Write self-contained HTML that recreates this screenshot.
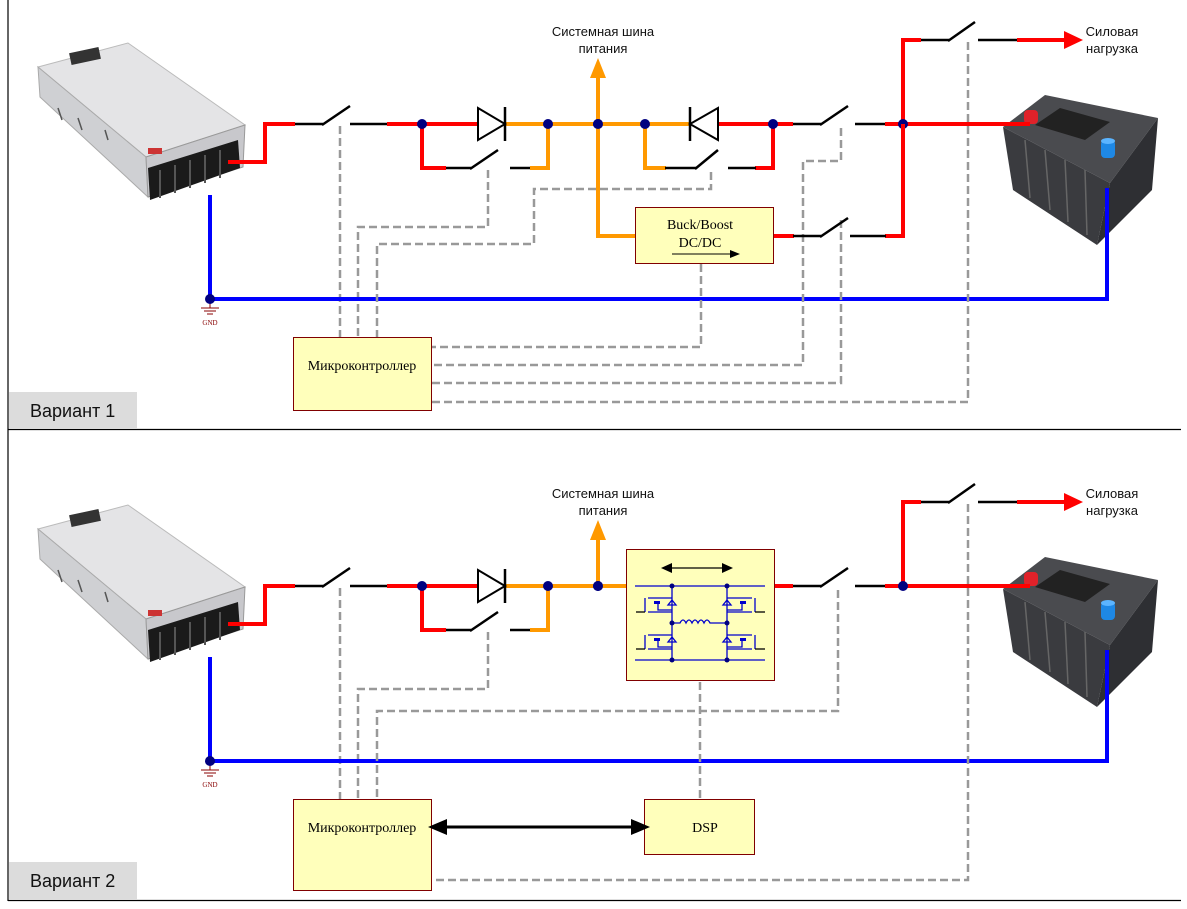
<!DOCTYPE html>
<html><head><meta charset="utf-8"><style>
html,body{margin:0;padding:0;background:#fff;}
svg{display:block;}
.ss{font-family:"Liberation Sans",sans-serif;font-size:13px;fill:#111;}
.sf{font-family:"Liberation Serif",serif;font-size:14px;fill:#000;}
</style></head><body>
<svg width="1187" height="909" viewBox="0 0 1187 909" xmlns="http://www.w3.org/2000/svg">
<defs>
<g id="psu">
  <polygon points="38,67 128,43 245,125 146,157" fill="#e4e4e6" stroke="#bbb"/>
  <polygon points="38,67 146,157 148,197 40,97" fill="#cfd0d3" stroke="#aaa"/>
  <polygon points="146,157 245,125 243,167 148,197" fill="#c8c8cc" stroke="#999"/>
  <polygon points="148,168 238,140 240,168 150,200" fill="#1a1a1a"/>
  <g stroke="#555" stroke-width="2"><line x1="160" y1="170" x2="160" y2="198"/><line x1="175" y1="165" x2="175" y2="193"/><line x1="190" y1="160" x2="190" y2="188"/><line x1="205" y1="155" x2="205" y2="183"/><line x1="220" y1="150" x2="220" y2="178"/></g>
  <rect x="70" y="50" width="30" height="12" fill="#333" transform="rotate(-12 85 56)"/>
  <rect x="148" y="148" width="14" height="6" fill="#c33"/>
  <g stroke="#555" stroke-width="1.5"><line x1="58" y1="108" x2="62" y2="120"/><line x1="78" y1="118" x2="82" y2="130"/><line x1="105" y1="130" x2="108" y2="140"/></g>
</g>
<g id="batt">
  <polygon points="1003,127 1045,95 1158,118 1110,183" fill="#4a4b4f"/>
  <polygon points="1003,127 1110,183 1097,245 1013,190" fill="#3a3b3f"/>
  <polygon points="1110,183 1158,118 1152,190 1097,245" fill="#2e2f33"/>
  <polygon points="1035,125 1060,108 1110,122 1085,140" fill="#222"/>
  <g stroke="#666" stroke-width="1.5"><line x1="1025" y1="140" x2="1030" y2="198"/><line x1="1045" y1="150" x2="1050" y2="210"/><line x1="1065" y1="160" x2="1068" y2="222"/><line x1="1085" y1="170" x2="1087" y2="235"/></g>
  <rect x="1024" y="110" width="14" height="14" rx="4" fill="#e0222a"/>
  <rect x="1101" y="140" width="14" height="18" rx="4" fill="#1e88e5"/>
  <ellipse cx="1108" cy="141" rx="7" ry="3" fill="#5bb4ff"/>
</g>
</defs>

<g stroke="#000" stroke-width="1.2">
<line x1="8" y1="0" x2="8" y2="901"/>
<line x1="8" y1="429.5" x2="1181" y2="429.5"/>
<line x1="8" y1="900.5" x2="1181" y2="900.5"/>
</g>
<rect x="9" y="392" width="128" height="37" fill="#dcdcdc"/>
<text x="30" y="417" font-family="Liberation Sans,sans-serif" font-size="18" fill="#111">Вариант 1</text>
<rect x="9" y="862" width="128" height="38" fill="#dcdcdc"/>
<text x="30" y="887" font-family="Liberation Sans,sans-serif" font-size="18" fill="#111">Вариант 2</text>

<g id="common">
<use href="#psu"/>
<use href="#batt"/>
<g fill="none" stroke-linecap="butt" stroke-linejoin="miter">
 <g stroke="#999" stroke-width="2.5" stroke-dasharray="8,4">
  <line x1="340" y1="126" x2="340" y2="337"/>
  <polyline points="488,170 488,227 358,227 358,337"/>
 </g>
 <polyline points="228,162 265,162 265,124 295,124" stroke="#f00" stroke-width="4"/>
 <g stroke="#000" stroke-width="2.5">
  <line x1="295" y1="124" x2="323" y2="124"/><line x1="322" y1="125" x2="350" y2="106"/><line x1="350" y1="124" x2="387" y2="124"/>
  <line x1="445" y1="168" x2="471" y2="168"/><line x1="470" y1="169" x2="498" y2="150"/><line x1="510" y1="168" x2="531" y2="168"/>
  <line x1="793" y1="124" x2="821" y2="124"/><line x1="820" y1="125" x2="848" y2="106"/><line x1="855" y1="124" x2="886" y2="124"/>
  <line x1="920" y1="40" x2="949" y2="40"/><line x1="948" y1="41" x2="975" y2="22"/><line x1="978" y1="40" x2="1018" y2="40"/>
 </g>
 <line x1="387" y1="124" x2="478" y2="124" stroke="#f00" stroke-width="4"/>
 <polyline points="422,124 422,168 446,168" stroke="#f00" stroke-width="4"/>
 <polyline points="530,168 548,168 548,124" stroke="#f90" stroke-width="4"/>
 <line x1="505" y1="124" x2="598" y2="124" stroke="#f90" stroke-width="4"/>
 <line x1="598" y1="124" x2="598" y2="74" stroke="#f90" stroke-width="4"/>
 <line x1="775" y1="124" x2="793" y2="124" stroke="#f00" stroke-width="4"/>
 <line x1="885" y1="124" x2="1030" y2="124" stroke="#f00" stroke-width="4"/>
 <polyline points="903,124 903,40 921,40" stroke="#f00" stroke-width="4"/>
 <line x1="1017" y1="40" x2="1066" y2="40" stroke="#f00" stroke-width="4"/>
 <polyline points="210,195 210,299 1107,299 1107,188" stroke="#00f" stroke-width="4"/>
 <polygon points="478,108 478,140 505,124" fill="#fff" stroke="#000" stroke-width="2"/>
 <line x1="505" y1="107" x2="505" y2="141" stroke="#000" stroke-width="2.5"/>
 <g stroke="#800" stroke-width="1"><line x1="210" y1="300" x2="210" y2="308"/><line x1="201" y1="308" x2="219" y2="308"/><line x1="204" y1="311" x2="216" y2="311"/><line x1="207" y1="314" x2="213" y2="314"/></g>
</g>
<polygon points="590,78 598,58 606,78" fill="#f90"/>
<polygon points="1064,31 1083,40 1064,49" fill="#f00"/>
<g fill="#000080"><circle cx="422" cy="124" r="5"/><circle cx="548" cy="124" r="5"/><circle cx="598" cy="124" r="5"/><circle cx="903" cy="124" r="5"/><circle cx="210" cy="299" r="5"/></g>
</g>
<use href="#common" y="462"/>

<text x="603" y="36" text-anchor="middle" class="ss">Системная шина</text>
<text x="603" y="53" text-anchor="middle" class="ss">питания</text>
<text x="1112" y="36" text-anchor="middle" class="ss">Силовая</text>
<text x="1112" y="53" text-anchor="middle" class="ss">нагрузка</text>
<text x="210" y="325" text-anchor="middle" font-family="Liberation Serif,serif" font-size="7" fill="#800">GND</text>
<text x="603" y="498" text-anchor="middle" class="ss">Системная шина</text>
<text x="603" y="515" text-anchor="middle" class="ss">питания</text>
<text x="1112" y="498" text-anchor="middle" class="ss">Силовая</text>
<text x="1112" y="515" text-anchor="middle" class="ss">нагрузка</text>
<text x="210" y="787" text-anchor="middle" font-family="Liberation Serif,serif" font-size="7" fill="#800">GND</text>

<!-- panel 1 specific -->
<g fill="none">
 <g stroke="#999" stroke-width="2.5" stroke-dasharray="8,4">
  <polyline points="711,172 711,189 534,189 534,244 377,244 377,337"/>
  <polyline points="701,264 701,347 432,347"/>
  <polyline points="841,128 841,161 803,161 803,365 432,365"/>
  <polyline points="841,220 841,383 432,383"/>
  <polyline points="968,42 968,402 432,402"/>
 </g>
 <line x1="598" y1="124" x2="690" y2="124" stroke="#f90" stroke-width="4"/>
 <polyline points="645,124 645,168 666,168" stroke="#f90" stroke-width="4"/>
 <polyline points="598,124 598,236 636,236" stroke="#f90" stroke-width="4"/>
 <line x1="718" y1="124" x2="775" y2="124" stroke="#f00" stroke-width="4"/>
 <polyline points="755,168 773,168 773,124" stroke="#f00" stroke-width="4"/>
 <line x1="773" y1="236" x2="794" y2="236" stroke="#f00" stroke-width="4"/>
 <polyline points="885,236 903,236 903,124" stroke="#f00" stroke-width="4"/>
 <g stroke="#000" stroke-width="2.5">
  <line x1="665" y1="168" x2="696" y2="168"/><line x1="695" y1="169" x2="718" y2="150"/><line x1="728" y1="168" x2="756" y2="168"/>
  <line x1="793" y1="236" x2="821" y2="236"/><line x1="820" y1="237" x2="848" y2="218"/><line x1="850" y1="236" x2="886" y2="236"/>
 </g>
 <polygon points="718,108 718,140 690,124" fill="#fff" stroke="#000" stroke-width="2"/>
 <line x1="690" y1="107" x2="690" y2="141" stroke="#000" stroke-width="2.5"/>
</g>
<g fill="#000080"><circle cx="645" cy="124" r="5"/><circle cx="773" cy="124" r="5"/><circle cx="598" cy="124" r="5"/></g>
<rect x="635.5" y="207.5" width="138" height="56" fill="#ffffbb" stroke="#800000"/>
<text x="700" y="229" text-anchor="middle" class="sf">Buck/Boost</text>
<text x="700" y="247" text-anchor="middle" class="sf">DC/DC</text>
<line x1="672" y1="254" x2="732" y2="254" stroke="#000" stroke-width="1"/>
<polygon points="730,250 740,254 730,258" fill="#000"/>
<rect x="293.5" y="337.5" width="138" height="73" fill="#ffffbb" stroke="#800000"/>
<text x="362" y="370" text-anchor="middle" class="sf">Микроконтроллер</text>

<!-- panel 2 specific -->
<g fill="none">
 <g stroke="#999" stroke-width="2.5" stroke-dasharray="8,4">
  <polyline points="838,590 838,711 377,711 377,800"/>
  <line x1="700" y1="682" x2="700" y2="800"/>
  <polyline points="968,504 968,880 432,880"/>
 </g>
 <line x1="598" y1="586" x2="627" y2="586" stroke="#f90" stroke-width="4"/>
</g>
<circle cx="598" cy="586" r="5" fill="#000080"/>
<rect x="626.5" y="549.5" width="148" height="131" fill="#ffffbb" stroke="#800000"/>
<g>
 <line x1="666" y1="568" x2="728" y2="568" stroke="#000" stroke-width="1.2"/>
 <polygon points="661,568 672,563 672,573" fill="#000"/>
 <polygon points="733,568 722,563 722,573" fill="#000"/>
 <g stroke="#00c" stroke-width="1.3" fill="none">
  <line x1="635" y1="586" x2="765" y2="586"/><line x1="635" y1="660" x2="765" y2="660"/>
  <line x1="672" y1="586" x2="672" y2="660"/><line x1="727" y1="586" x2="727" y2="660"/>
  <path d="M672,623 H680 q3,-6 6,0 q3,-6 6,0 q3,-6 6,0 q3,-6 6,0 q3,-6 6,0 H727"/>
  <path d="M645,598 v14 M648,598 h24 M648,612 h24 M658,603 v7 h14"/>
  <path d="M645,635 v14 M648,635 h24 M648,649 h24 M658,640 v7 h14"/>
  <path d="M755,598 v14 M752,598 h-25 M752,612 h-25 M742,603 v7 h-15"/>
  <path d="M755,635 v14 M752,635 h-25 M752,649 h-25 M742,640 v7 h-15"/>
  <path d="M668,605 h8 l-4,-5 z M668,642 h8 l-4,-5 z M723,605 h8 l-4,-5 z M723,642 h8 l-4,-5 z"/>
 </g>
 <g stroke="#000" stroke-width="1.3"><line x1="636" y1="612" x2="645" y2="612"/><line x1="636" y1="649" x2="645" y2="649"/><line x1="755" y1="612" x2="765" y2="612"/><line x1="755" y1="649" x2="765" y2="649"/></g>
 <g fill="#00c"><rect x="654" y="601" width="6" height="3"/><rect x="654" y="638" width="6" height="3"/><rect x="740" y="601" width="6" height="3"/><rect x="740" y="638" width="6" height="3"/></g>
 <g fill="#000080"><circle cx="672" cy="586" r="2.5"/><circle cx="727" cy="586" r="2.5"/><circle cx="672" cy="623" r="2.5"/><circle cx="727" cy="623" r="2.5"/><circle cx="672" cy="660" r="2.5"/><circle cx="727" cy="660" r="2.5"/></g>
</g>
<rect x="293.5" y="799.5" width="138" height="91" fill="#ffffbb" stroke="#800000"/>
<text x="362" y="832" text-anchor="middle" class="sf">Микроконтроллер</text>
<rect x="644.5" y="799.5" width="110" height="55" fill="#ffffbb" stroke="#800000"/>
<text x="705" y="832" text-anchor="middle" class="sf">DSP</text>
<line x1="440" y1="827" x2="637" y2="827" stroke="#000" stroke-width="3"/>
<polygon points="428,827 447,819 447,835" fill="#000"/>
<polygon points="650,827 631,819 631,835" fill="#000"/>
</svg>
</body></html>
